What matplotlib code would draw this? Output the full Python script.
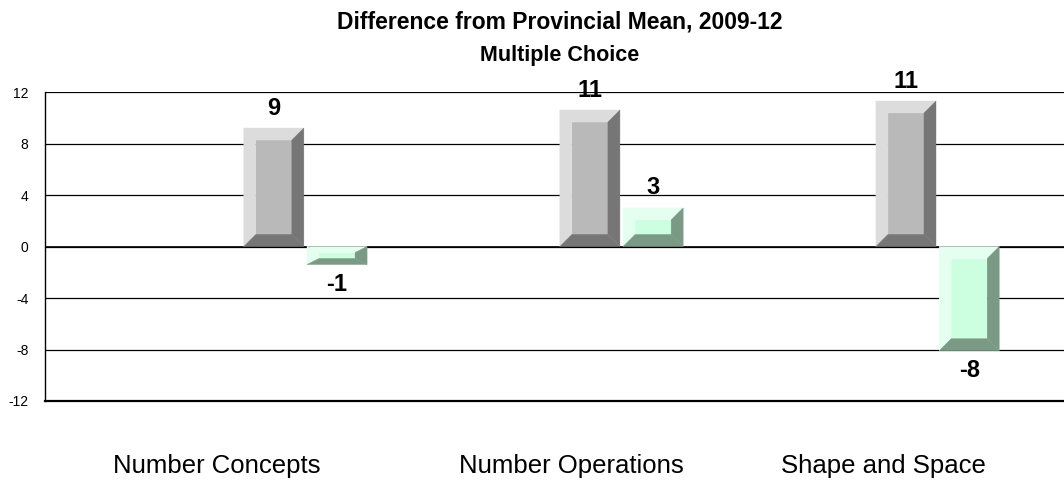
import matplotlib
matplotlib.use('Agg')
import matplotlib.pyplot as plt
from matplotlib.patches import Polygon
import numpy as np

# ---- data ----
categories = ["Number Concepts", "Number Operations", "Shape and Space"]
series_grey = [9.2, 10.6, 11.3]
series_green = [-1.4, 3.0, -8.1]
yticks = [-12, -8, -4, 0, 4, 8, 12]
title = "Difference from Provincial Mean, 2009-12"
subtitle = "Multiple Choice"

plt.rcParams['font.family'] = ['Liberation Sans', 'DejaVu Sans']

W, H = 1064, 499
fig = plt.figure(figsize=(W / 100, H / 100), dpi=100)
ax_left, ax_right, ax_top, ax_bottom = 45, W, 92, 401
ax = fig.add_axes([ax_left / W, (H - ax_bottom) / H, (ax_right - ax_left) / W, (ax_bottom - ax_top) / H])
xmin, xmax = -0.824, 2.40
ax.set_xlim(xmin, xmax)
ax.set_ylim(-12, 12)

px_x = (ax_right - ax_left) / (xmax - xmin)
px_y = (ax_bottom - ax_top) / 24.0

grey_cols = ("#DCDCDC", "#B9B9B9", "#767676")
green_cols = ("#E4FFEF", "#CCFFE0", "#7A9A86")


def bevel_bar(xc, width, val, cols):
    light, face, dark = cols
    x0, x1 = xc - width / 2, xc + width / 2
    yb, yt = min(0, val), max(0, val)
    h_px = abs(val) * px_y
    dx = 12.0 / px_x
    dy = min(12.0, h_px / 3.0) / px_y
    polys = [
        ([(x0 + dx, yb + dy), (x1 - dx, yb + dy), (x1 - dx, yt - dy), (x0 + dx, yt - dy)], face),
        ([(x0, yt), (x1, yt), (x1 - dx, yt - dy), (x0 + dx, yt - dy)], light),
        ([(x0, yb), (x0, yt), (x0 + dx, yt - dy), (x0 + dx, yb + dy)], light),
        ([(x1, yt), (x1, yb), (x1 - dx, yb + dy), (x1 - dx, yt - dy)], dark),
        ([(x0, yb), (x1, yb), (x1 - dx, yb + dy), (x0 + dx, yb + dy)], dark),
    ]
    for pts, c in polys:
        ax.add_patch(Polygon(pts, closed=True, facecolor=c, edgecolor=c, lw=0.3, zorder=3))


bar_w = 0.19
x = np.arange(len(categories))
for i, (g, n) in enumerate(zip(series_grey, series_green)):
    for xc, v, cols in ((x[i] - 0.1, g, grey_cols), (x[i] + 0.1, n, green_cols)):
        bevel_bar(xc, bar_w, v, cols)
        off = 20 if v >= 0 else -20
        ax.annotate(f"{int(round(v))}", (xc, v), xytext=(0, off), textcoords='offset pixels',
                    ha='center', va='center', fontsize=17, fontweight='bold', color='black', zorder=4)

# grid & axes
ax.set_yticks(yticks)
ax.set_yticklabels([str(t) for t in yticks])
ax.yaxis.grid(True, color='black', lw=0.9)
ax.set_axisbelow(True)
ax.axhline(0, color='black', lw=1.2, zorder=1)
for s in ('top', 'right'):
    ax.spines[s].set_visible(False)
ax.spines['left'].set_linewidth(1.0)
ax.spines['bottom'].set_linewidth(1.6)
ax.tick_params(axis='y', length=0, pad=12, labelsize=10)

label_shift = [-0.28, -0.16, -0.17]
ax.set_xticks(x + np.array(label_shift))
ax.set_xticklabels(categories, fontsize=18.5)
ax.tick_params(axis='x', length=0, pad=38)

fig.text(560 / W, 1 - 22 / H, title, ha='center', va='center', fontsize=16.5, fontweight='bold')
fig.text(560 / W, 1 - 56 / H, subtitle, ha='center', va='center', fontsize=15.5, fontweight='bold')

fig.savefig("out.png", dpi=100)
